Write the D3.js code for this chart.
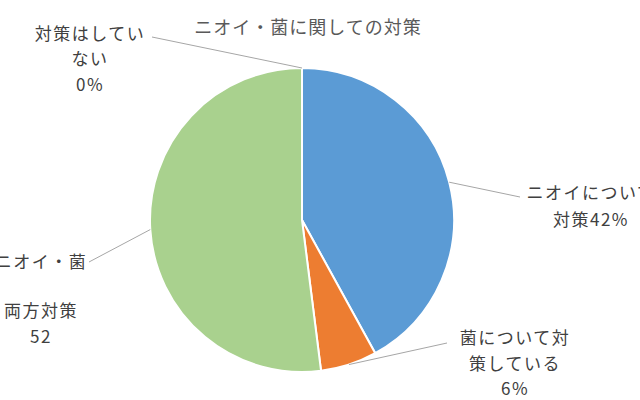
<!DOCTYPE html>
<html>
<head>
<meta charset="utf-8">
<script src="https://cdn.jsdelivr.net/npm/d3@7"></script>
<style>
  body { margin: 0; background: #fff; }
  text { font-family: "Noto Sans CJK JP", "Noto Sans", sans-serif; }
</style>
</head>
<body>
<svg id="chart" width="640" height="400"></svg>
<script>
var title = "ニオイ・菌に関しての対策";
var categories = ["ニオイについて対策", "菌について対策している", "ニオイ・菌両方対策", "対策はしていない"];
var values = [42, 6, 52, 0];
var colors = ["#5B9BD5", "#ED7D31", "#A9D18E", "#A5A5A5"];
// label lines as shown in the picture (some run past the edge, as in the original)
var labelLines = [
  ["ニオイについて", "対策42%"],
  ["菌について対", "策している", "6%"],
  ["ニオイ・菌", "", "両方対策", "52"],
  ["対策はしてい", "ない", "0%"]
];

// layout for labels (leader end + text block)
var labelLayout = [
  { end: [520, 197], x: 591, y: [199, 226] },
  { end: [447, 343], x: 515, y: [344, 370, 395] },
  { end: [89, 262], x: 41, y: [268, 293, 317, 343] },
  { end: [152, 37], x: 90, y: [40, 65, 91] }
];

var svg = d3.select("#chart"),
    cx = 302, cy = 220, r = 152;

svg.append("text")
  .attr("x", 308).attr("y", 34)
  .attr("text-anchor", "middle")
  .attr("fill", "#595959")
  .style("font-size", "18px")
  .style("letter-spacing", "1px")
  .text(title);

var pie = d3.pie().sort(null).value(function(d) { return d; });
var arcs = pie(values);

var arc = d3.arc().innerRadius(0).outerRadius(r);
var edge = d3.arc().innerRadius(r).outerRadius(r);

var g = svg.append("g").attr("transform", "translate(" + cx + "," + cy + ")");

g.selectAll("path.slice")
  .data(arcs)
  .enter()
  .append("path")
    .attr("class", "slice")
    .attr("d", arc)
    .attr("fill", function(d, i) { return colors[i]; })
    .attr("stroke", "#fff")
    .attr("stroke-width", 2);

// leader lines from the slice edge to the label
svg.selectAll("line.leader")
  .data(arcs)
  .enter()
  .append("line")
    .attr("class", "leader")
    .attr("x1", function(d) { return cx + edge.centroid(d)[0]; })
    .attr("y1", function(d) { return cy + edge.centroid(d)[1]; })
    .attr("x2", function(d, i) { return labelLayout[i].end[0]; })
    .attr("y2", function(d, i) { return labelLayout[i].end[1]; })
    .attr("stroke", "#A6A6A6")
    .attr("stroke-width", 1);

var labels = svg.selectAll("text.label")
  .data(categories)
  .enter()
  .append("text")
    .attr("class", "label")
    .attr("fill", "#404040")
    .attr("text-anchor", "middle")
    .style("font-size", "17px")
    .style("letter-spacing", "1.5px");

labels.each(function(d, i) {
  var t = d3.select(this), lay = labelLayout[i];
  labelLines[i].forEach(function(line, j) {
    if (!line) return;
    t.append("tspan").attr("x", lay.x).attr("y", lay.y[j]).text(line);
  });
});
</script>
</body>
</html>
